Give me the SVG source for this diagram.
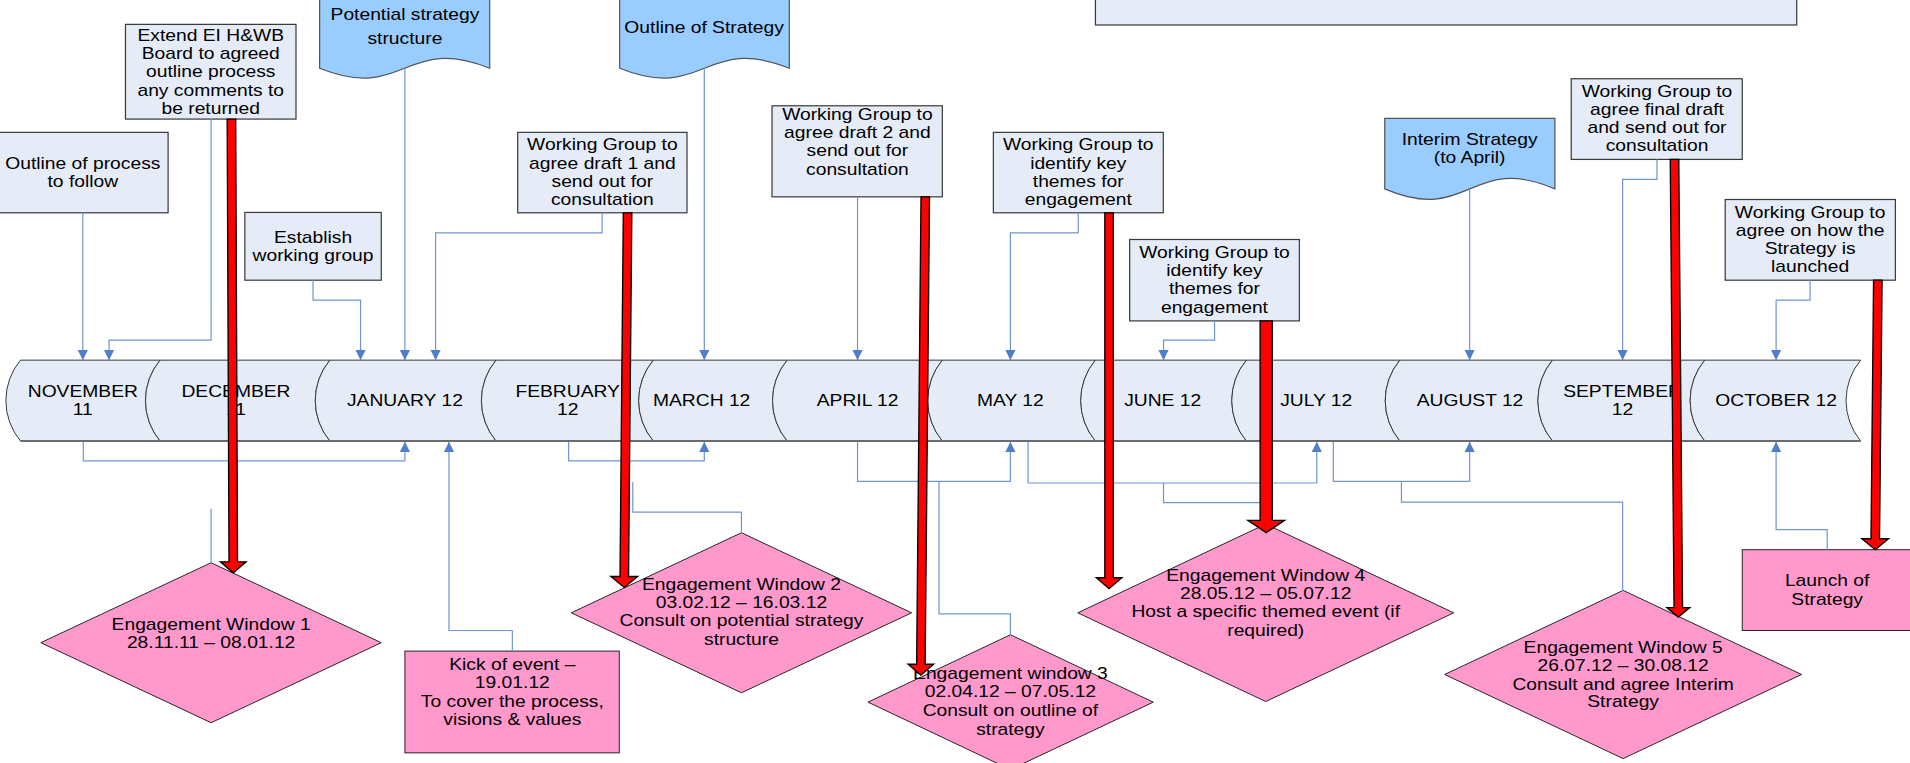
<svg xmlns="http://www.w3.org/2000/svg" width="1910" height="763" viewBox="0 0 1910 763">
<defs>
<style>
.box{fill:#E6ECF7;stroke:#3a3a3a;stroke-width:1}
.doc{fill:#99CCFF;stroke:#555;stroke-width:1}
.pink{fill:#FF99CC;stroke:#222;stroke-width:0.8}
.seg{fill:#E6ECF7;stroke:#333;stroke-width:0.8}
.t{font-family:"Liberation Sans",Arial,sans-serif;font-size:13.4px;fill:#000;text-anchor:middle}
.c{fill:none;stroke:#7096D1;stroke-width:1}
.red{fill:#FF0000;stroke:#000;stroke-width:1.1}
</style>
<marker id="ab" viewBox="0 0 10 10" refX="10" refY="5" markerWidth="8.4" markerHeight="10.7" markerUnits="userSpaceOnUse" orient="auto">
<path d="M0,0 L10,5 L0,10 Z" fill="#4F7FC8"/>
</marker>
</defs>
<rect x="0" y="0" width="1910" height="763" fill="#fff"/>
<g transform="scale(1.2181,1.2188)">
<g id="timeline">
<g id="m-nov"><path class="seg" d="M16.8,295.5 L131.4,295.5 A51.8,51.8 0 0 0 131.4,361.8 L16.8,361.8 A51.8,51.8 0 0 1 16.8,295.5 Z"/><text class="t" transform="translate(68,0) scale(1.18,1)"><tspan x="0" y="325.6">NOVEMBER</tspan><tspan x="0" y="340.1">11</tspan></text></g>
<g id="m-dec"><path class="seg" d="M131.4,295.5 L270.8,295.5 A51.8,51.8 0 0 0 270.8,361.8 L131.4,361.8 A51.8,51.8 0 0 1 131.4,295.5 Z"/><text class="t" transform="translate(193.7,0) scale(1.18,1)"><tspan x="0" y="325.6">DECEMBER</tspan><tspan x="0" y="340.1">11</tspan></text></g>
<g id="m-jan"><path class="seg" d="M270.8,295.5 L407.2,295.5 A51.8,51.8 0 0 0 407.2,361.8 L270.8,361.8 A51.8,51.8 0 0 1 270.8,295.5 Z"/><text class="t" transform="translate(332.4,0) scale(1.18,1)"><tspan x="0" y="333.2">JANUARY 12</tspan></text></g>
<g id="m-feb"><path class="seg" d="M407.2,295.5 L536.3,295.5 A51.8,51.8 0 0 0 536.3,361.8 L407.2,361.8 A51.8,51.8 0 0 1 407.2,295.5 Z"/><text class="t" transform="translate(466,0) scale(1.18,1)"><tspan x="0" y="325.6">FEBRUARY</tspan><tspan x="0" y="340.1">12</tspan></text></g>
<g id="m-mar"><path class="seg" d="M536.3,295.5 L646.2,295.5 A51.8,51.8 0 0 0 646.2,361.8 L536.3,361.8 A51.8,51.8 0 0 1 536.3,295.5 Z"/><text class="t" transform="translate(576,0) scale(1.18,1)"><tspan x="0" y="333.2">MARCH 12</tspan></text></g>
<g id="m-apr"><path class="seg" d="M646.2,295.5 L773.6,295.5 A51.8,51.8 0 0 0 773.6,361.8 L646.2,361.8 A51.8,51.8 0 0 1 646.2,295.5 Z"/><text class="t" transform="translate(704,0) scale(1.18,1)"><tspan x="0" y="333.2">APRIL 12</tspan></text></g>
<g id="m-may"><path class="seg" d="M773.6,295.5 L899.2,295.5 A51.8,51.8 0 0 0 899.2,361.8 L773.6,361.8 A51.8,51.8 0 0 1 773.6,295.5 Z"/><text class="t" transform="translate(829.5,0) scale(1.18,1)"><tspan x="0" y="333.2">MAY 12</tspan></text></g>
<g id="m-jun"><path class="seg" d="M899.2,295.5 L1023.2,295.5 A51.8,51.8 0 0 0 1023.2,361.8 L899.2,361.8 A51.8,51.8 0 0 1 899.2,295.5 Z"/><text class="t" transform="translate(954.5,0) scale(1.18,1)"><tspan x="0" y="333.2">JUNE 12</tspan></text></g>
<g id="m-jul"><path class="seg" d="M1023.2,295.5 L1149.2,295.5 A51.8,51.8 0 0 0 1149.2,361.8 L1023.2,361.8 A51.8,51.8 0 0 1 1023.2,295.5 Z"/><text class="t" transform="translate(1080.5,0) scale(1.18,1)"><tspan x="0" y="333.2">JULY 12</tspan></text></g>
<g id="m-aug"><path class="seg" d="M1149.2,295.5 L1274.5,295.5 A51.8,51.8 0 0 0 1274.5,361.8 L1149.2,361.8 A51.8,51.8 0 0 1 1149.2,295.5 Z"/><text class="t" transform="translate(1206.8,0) scale(1.18,1)"><tspan x="0" y="333.2">AUGUST 12</tspan></text></g>
<g id="m-sep"><path class="seg" d="M1274.5,295.5 L1399.5,295.5 A51.8,51.8 0 0 0 1399.5,361.8 L1274.5,361.8 A51.8,51.8 0 0 1 1274.5,295.5 Z"/><text class="t" transform="translate(1332,0) scale(1.18,1)"><tspan x="0" y="325.6">SEPTEMBER</tspan><tspan x="0" y="340.1">12</tspan></text></g>
<g id="m-oct"><path class="seg" d="M1399.5,295.5 L1527.5,295.5 A51.8,51.8 0 0 0 1527.5,361.8 L1399.5,361.8 A51.8,51.8 0 0 1 1399.5,295.5 Z"/><text class="t" transform="translate(1458.1,0) scale(1.18,1)"><tspan x="0" y="333.2">OCTOBER 12</tspan></text></g>
<path d="M16.8,361.8 H1527.5" stroke="#6b6b6b" stroke-width="1.6" fill="none"/>
</g>
<g id="nodes">
<g id="n-outline-process"><rect class="box" x="-1" y="108.6" width="139" height="66"/><text class="t" transform="translate(68,0) scale(1.18,1)"><tspan x="0" y="138.6">Outline of process</tspan><tspan x="0" y="153.4">to follow</tspan></text></g>
<g id="n-extend"><rect class="box" x="103" y="20" width="140" height="77.7"/><text class="t" transform="translate(173,0) scale(1.18,1)"><tspan x="0" y="33.3">Extend EI H&amp;WB</tspan><tspan x="0" y="48.3">Board to agreed</tspan><tspan x="0" y="63.4">outline process</tspan><tspan x="0" y="78.4">any comments to</tspan><tspan x="0" y="93.2">be returned</tspan></text></g>
<g id="n-establish"><rect class="box" x="201" y="174.3" width="112" height="55.6"/><text class="t" transform="translate(257,0) scale(1.18,1)"><tspan x="0" y="199.1">Establish</tspan><tspan x="0" y="214.4">working group</tspan></text></g>
<g id="n-potential"><path class="doc" d="M262.4,-5 H402 V56 C332.2,28 332.2,84 262.4,56 Z"/><text class="t" transform="translate(332.4,0) scale(1.18,1)"><tspan x="0" y="16.3">Potential strategy</tspan><tspan x="0" y="36.3">structure</tspan></text></g>
<g id="n-outline-strategy"><path class="doc" d="M508.7,-5 H648 V56 C578.3,28 578.3,84 508.7,56 Z"/><text class="t" transform="translate(578,0) scale(1.18,1)"><tspan x="0" y="26.7">Outline of Strategy</tspan></text></g>
<g id="n-draft1"><rect class="box" x="425" y="108.6" width="139" height="66"/><text class="t" transform="translate(494.5,0) scale(1.18,1)"><tspan x="0" y="123">Working Group to</tspan><tspan x="0" y="138.4">agree draft 1 and</tspan><tspan x="0" y="153.4">send out for</tspan><tspan x="0" y="168.5">consultation</tspan></text></g>
<g id="n-draft2"><rect class="box" x="633.8" y="86.8" width="139.8" height="74.7"/><text class="t" transform="translate(703.9,0) scale(1.18,1)"><tspan x="0" y="98.7">Working Group to</tspan><tspan x="0" y="113.4">agree draft 2 and</tspan><tspan x="0" y="128.2">send out for</tspan><tspan x="0" y="143.3">consultation</tspan></text></g>
<g id="n-themes1"><rect class="box" x="815.5" y="108.6" width="139.5" height="66"/><text class="t" transform="translate(885.2,0) scale(1.18,1)"><tspan x="0" y="123">Working Group to</tspan><tspan x="0" y="138.4">identify key</tspan><tspan x="0" y="153.4">themes for</tspan><tspan x="0" y="168.5">engagement</tspan></text></g>
<g id="n-themes2"><rect class="box" x="927.4" y="196.5" width="139.3" height="66.8"/><text class="t" transform="translate(997,0) scale(1.18,1)"><tspan x="0" y="212">Working Group to</tspan><tspan x="0" y="226.8">identify key</tspan><tspan x="0" y="241.5">themes for</tspan><tspan x="0" y="256.6">engagement</tspan></text></g>
<g id="n-topbox"><rect class="box" x="899.3" y="-5" width="575.7" height="25.5"/></g>
<g id="n-interim"><path class="doc" d="M1136.8,97.2 H1276.5 V155 C1206.6,125 1206.6,185 1136.8,155 Z"/><text class="t" transform="translate(1206.5,0) scale(1.18,1)"><tspan x="0" y="119.2">Interim Strategy</tspan><tspan x="0" y="134">(to April)</tspan></text></g>
<g id="n-final"><rect class="box" x="1289.9" y="64.6" width="140.4" height="66.2"/><text class="t" transform="translate(1360.3,0) scale(1.18,1)"><tspan x="0" y="79.5">Working Group to</tspan><tspan x="0" y="94.3">agree final draft</tspan><tspan x="0" y="109.1">and send out for</tspan><tspan x="0" y="123.8">consultation</tspan></text></g>
<g id="n-launched"><rect class="box" x="1416.3" y="163.7" width="139.7" height="66.2"/><text class="t" transform="translate(1486,0) scale(1.18,1)"><tspan x="0" y="178.8">Working Group to</tspan><tspan x="0" y="193.6">agree on how the</tspan><tspan x="0" y="208.4">Strategy is</tspan><tspan x="0" y="222.9">launched</tspan></text></g>
<g id="n-launch"><rect class="pink" x="1430.3" y="451" width="145" height="66.3"/><text class="t" transform="translate(1500,0) scale(1.18,1)"><tspan x="0" y="481">Launch of</tspan><tspan x="0" y="496.1">Strategy</tspan></text></g>
<g id="n-kick"><rect class="pink" x="332.4" y="534.2" width="176" height="83.5"/><text class="t" transform="translate(420.6,0) scale(1.18,1)"><tspan x="0" y="550">Kick of event –</tspan><tspan x="0" y="564.5">19.01.12</tspan><tspan x="0" y="580.3">To cover the process,</tspan><tspan x="0" y="594.6">visions &amp; values</tspan></text></g>
<g id="n-ew1"><path class="pink" d="M173.3,461.7 L313,527.3 L173.3,593 L33.5,527.3 Z"/><text class="t" transform="translate(173.3,0) scale(1.18,1)"><tspan x="0" y="516.6">Engagement Window 1</tspan><tspan x="0" y="531.6">28.11.11 – 08.01.12</tspan></text></g>
<g id="n-ew2"><path class="pink" d="M608.7,437.1 L748.4,502.8 L608.7,568.4 L469,502.8 Z"/><text class="t" transform="translate(608.7,0) scale(1.18,1)"><tspan x="0" y="484.3">Engagement Window 2</tspan><tspan x="0" y="499.1">03.02.12 – 16.03.12</tspan><tspan x="0" y="513.8">Consult on potential strategy</tspan><tspan x="0" y="528.9">structure</tspan></text></g>
<g id="n-ew3"><path class="pink" d="M829.5,520.8 L946.8,576.1 L829.5,631.4 L712.6,576.1 Z"/><text class="t" transform="translate(829.5,0) scale(1.18,1)"><tspan x="0" y="557.1">Engagement window 3</tspan><tspan x="0" y="572.1">02.04.12 – 07.05.12</tspan><tspan x="0" y="587.2">Consult on outline of</tspan><tspan x="0" y="602.8">strategy</tspan></text></g>
<g id="n-ew4"><path class="pink" d="M1039.1,430 L1193.4,502.8 L1039.1,575.6 L884.8,502.8 Z"/><text class="t" transform="translate(1039.1,0) scale(1.18,1)"><tspan x="0" y="476.6">Engagement Window 4</tspan><tspan x="0" y="491.4">28.05.12 – 05.07.12</tspan><tspan x="0" y="506.5">Host a specific themed event (if</tspan><tspan x="0" y="521.5">required)</tspan></text></g>
<g id="n-ew5"><path class="pink" d="M1332.5,484.4 L1479,553.4 L1332.5,622.4 L1186,553.4 Z"/><text class="t" transform="translate(1332.5,0) scale(1.18,1)"><tspan x="0" y="535.7">Engagement Window 5</tspan><tspan x="0" y="550.3">26.07.12 – 30.08.12</tspan><tspan x="0" y="565.8">Consult and agree Interim</tspan><tspan x="0" y="580.3">Strategy</tspan></text></g>
</g>
<g id="connectors">
<g id="blue">
<path class="c" marker-end="url(#ab)" d="M68,174.6 V295.5"/>
<path class="c" marker-end="url(#ab)" d="M173.3,97.7 V279 H89.5 V295.5"/>
<path class="c" marker-end="url(#ab)" d="M257,229.9 V246.3 H296 V295.5"/>
<path class="c" marker-end="url(#ab)" d="M332.4,56 V295.5"/>
<path class="c" marker-end="url(#ab)" d="M494.3,174.6 V191 H357.6 V295.5"/>
<path class="c" marker-end="url(#ab)" d="M578.2,56 V295.5"/>
<path class="c" marker-end="url(#ab)" d="M704,161.5 V295.5"/>
<path class="c" marker-end="url(#ab)" d="M885.2,174.6 V191 H829.5 V295.5"/>
<path class="c" marker-end="url(#ab)" d="M997.1,263.3 V279 H955.2 V295.5"/>
<path class="c" marker-end="url(#ab)" d="M1206.5,155 V295.5"/>
<path class="c" marker-end="url(#ab)" d="M1360.3,130.8 V147.2 H1332.1 V295.5"/>
<path class="c" marker-end="url(#ab)" d="M1486,229.9 V246.3 H1458.1 V295.5"/>
<path class="c" marker-end="url(#ab)" d="M68.4,362.5 V378.2 H332.4 V362.5"/>
<path class="c" marker-end="url(#ab)" d="M420.6,534.2 V517.3 H368.6 V362.5"/>
<path class="c" d="M173.3,417.4 V461.7"/>
<path class="c" marker-end="url(#ab)" d="M466.8,362.5 V378.2 H578.2 V362.5"/>
<path class="c" d="M519.5,395.5 V420.1 H608.7 V437.1"/>
<path class="c" marker-end="url(#ab)" d="M704,362.5 V395 H829.5 V362.5"/>
<path class="c" d="M770.9,395 V503.6 H829.5 V520.8"/>
<path class="c" marker-end="url(#ab)" d="M844,362.5 V396.3 H1081 V362.5"/>
<path class="c" d="M955.2,396.3 V412.4 H1039.1 V430"/>
<path class="c" marker-end="url(#ab)" d="M1094.6,362.5 V395 H1206.5 V362.5"/>
<path class="c" d="M1150.5,395 V411.9 H1332.1 V484.4"/>
<path class="c" marker-end="url(#ab)" d="M1500,451 V434.6 H1458.1 V362.5"/>
</g>
<g id="red">
<polygon class="red" points="186.5,97.7 193.5,97.7 195,461 202,461 191.5,470 181,461 188,461"/>
<polygon class="red" points="511.7,174.6 518.7,174.6 516,473 523.5,473 512.5,482 501.5,473 509,473"/>
<polygon class="red" points="756.1,161.5 763.1,161.5 759.5,545 766.5,545 756,554 745.5,545 752.5,545"/>
<polygon class="red" points="907,174.6 914,174.6 914,474 921,474 910.5,483 900,474 907,474"/>
<polygon class="red" points="1034.5,263.3 1044.5,263.3 1044.5,427 1054.5,427 1039.5,437 1024.5,427 1034.5,427"/>
<polygon class="red" points="1371.2,130.8 1378.2,130.8 1381.3,498.5 1387.2,498.5 1377.8,506.3 1368.4,498.5 1374.3,498.5"/>
<polygon class="red" points="1538.1,229.9 1545.1,229.9 1543,442 1550.4,442 1539.5,451 1528.5,442 1536,442"/>
</g>
</g>
</g>
</svg>
